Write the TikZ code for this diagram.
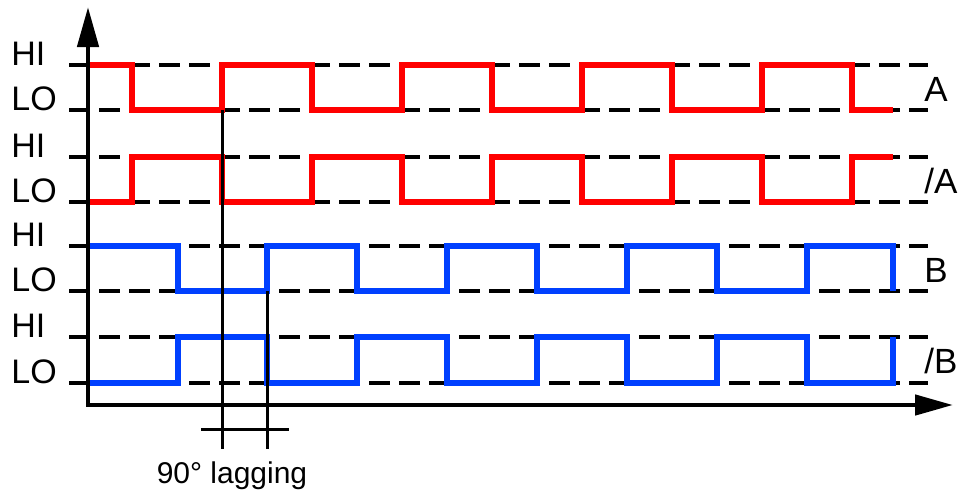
\documentclass[tikz,border=0pt]{standalone}
\usepackage{fontspec}
\setmainfont{Liberation Sans}
\usetikzlibrary{arrows.meta}
\definecolor{sigred}{RGB}{255,0,0}
\definecolor{sigblue}{RGB}{0,64,255}

\begin{document}
\begin{tikzpicture}[x=0.5pt, y=-0.5pt,
    level/.style={line width=1.6pt, dash pattern=on 10.5pt off 4.5pt},
    wave/.style={line width=2.6pt, line join=miter},
    marker/.style={line width=1.5pt},
    lvl/.style={anchor=base west, inner sep=0pt, font=\fontsize{17}{20}\selectfont},
    sig/.style={anchor=west, inner sep=0pt, font=\fontsize{17.5}{20}\selectfont}]

        \useasboundingbox (0,0) rectangle (960,494);

        % Dashed levels
        \draw[level] (69,65) -- (928,65);
        \draw[level] (69,110) -- (928,110);
        \draw[level] (69,157) -- (928,157);
        \draw[level] (69,202) -- (928,202);
        \draw[level] (69,246) -- (928,246);
        \draw[level] (69,291) -- (928,291);
        \draw[level] (69,337) -- (928,337);
        \draw[level] (69,383) -- (928,383);

        % HI / LO labels
        \node[lvl] (hiA) at (11,65) {HI};
        \node[lvl] (loA) at (11,110) {LO};
        \node[lvl] (hiAn) at (11,157) {HI};
        \node[lvl] (loAn) at (11,202) {LO};
        \node[lvl] (hiB) at (11,246) {HI};
        \node[lvl] (loB) at (11,291) {LO};
        \node[lvl] (hiBn) at (11,337) {HI};
        \node[lvl] (loBn) at (11,383) {LO};

        % Signal A
        \draw[wave, sigred] (88,65) -- (132,65) -- (132,110) -- (222,110) -- (222,65) -- (312,65) -- (312,110)
            -- (402,110) -- (402,65) -- (492,65) -- (492,110) -- (582,110) -- (582,65) -- (672,65) -- (672,110)
            -- (762,110) -- (762,65) -- (852,65) -- (852,110) -- (893,110);

        % Signal /A
        \draw[wave, sigred] (88,202) -- (132,202) -- (132,157) -- (222,157) -- (222,202) -- (312,202) -- (312,157)
            -- (402,157) -- (402,202) -- (492,202) -- (492,157) -- (582,157) -- (582,202) -- (672,202) -- (672,157)
            -- (762,157) -- (762,202) -- (852,202) -- (852,157) -- (893,157);

        % Signal B
        \draw[wave, sigblue] (88,246) -- (178,246) -- (178,291) -- (267,291) -- (267,246) -- (357,246) -- (357,291)
            -- (447,291) -- (447,246) -- (537,246) -- (537,291) -- (627,291) -- (627,246) -- (717,246) -- (717,291)
            -- (807,291) -- (807,246) -- (893,246) -- (893,291);

        % Signal /B
        \draw[wave, sigblue] (88,383) -- (178,383) -- (178,337) -- (267,337) -- (267,383) -- (357,383) -- (357,337)
            -- (447,337) -- (447,383) -- (537,383) -- (537,337) -- (627,337) -- (627,383) -- (717,383) -- (717,337)
            -- (807,337) -- (807,383) -- (893,383) -- (893,337);

        % Signal names
        \node[sig] (labA) at (924,89) {A};
        \node[sig] (labAn) at (924,181) {/A};
        \node[sig] (labB) at (924,270) {B};
        \node[sig] (labBn) at (924,361) {/B};

        % Axes
        \draw[line width=2.3pt, {Triangle[length=20pt, width=10.5pt]}-{Triangle[length=19pt, width=10pt]}]
            (88,7) -- (88,405) -- (953,405);

        % Phase markers
        \coordinate (lagA) at (222,449);
        \coordinate (lagB) at (267,449);
        \draw[marker] (222,110) -- (lagA);
        \draw[marker] (267,291) -- (lagB);
        \draw[marker] (201,429) -- (289,429);
        \node[anchor=base, inner sep=0pt, font=\fontsize{15}{18}\selectfont] (lag) at (232,483) {90° lagging};

    \end{tikzpicture}
\end{document}
